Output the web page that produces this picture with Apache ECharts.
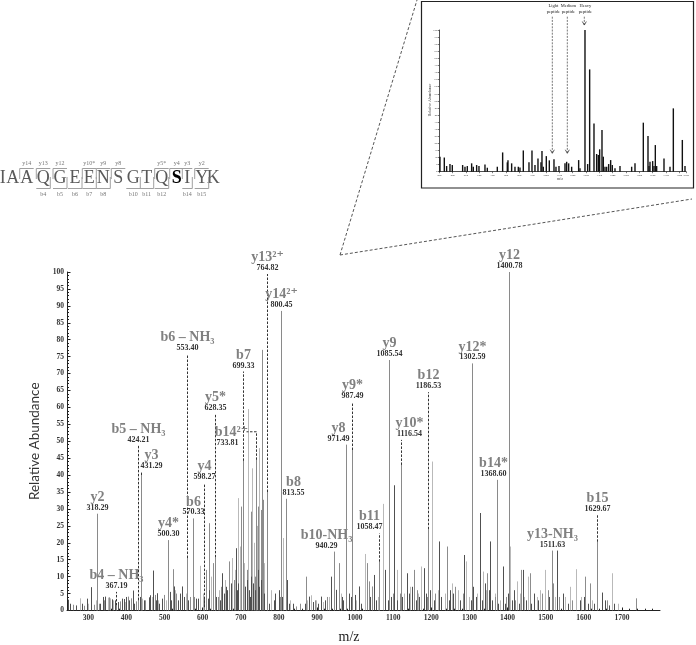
<!DOCTYPE html>
<html><head><meta charset="utf-8">
<script src="https://cdn.jsdelivr.net/npm/echarts@6/dist/echarts.min.js"></script>
<style>html,body{margin:0;padding:0;background:#fff}#c{width:696px;height:645px}</style>
</head><body><div id="c"></div>
<script>
// ================= DATA =================
const xTickLabels = [300,400,500,600,700,800,900,1000,1100,1200,1300,1400,1500,1600,1700];
const yTickLabels = [0,5,10,15,20,25,30,35,40,45,50,55,60,65,70,75,80,85,90,95,100];

// unannotated peaks [m/z, relative abundance], by grey shade
const lightPeaks = [[278,3.6],[300,2],[320,3],[351,3.8],[358,3.6],[366,3],[396,2.5],[430,4],[441,3.5],[467,4],[484,3],[505,3],[527,6],[540,4],[556,5],[593,13.2],[600,5],[623,10],[632,8],[642,6],[658,9],[677,15.5],[684,12],[693,33.2],[698,18.9],[708,14],[720,59.5],[730,42],[735,20],[742,25],[747.5,48],[762,14],[780,6],[811,21.4],[830,3],[875,3],[885,4.5],[898,3],[915,2.5],[932,4],[962,5],[1003,3],[1026,16.7],[1045,5],[1060,4],[1073,31.5],[1090,6],[1111,12],[1127,5],[1145,7],[1165,5],[1174,13],[1192,8],[1201,44],[1218,6],[1236,5],[1254,8],[1270,6],[1291,14.5],[1300,4],[1320,5],[1336,11.5],[1343,6],[1366,5],[1380,3],[1407,18.9],[1424,8.6],[1432,5],[1444,4],[1454,10],[1476,4],[1486,6],[1498,12],[1525,4],[1552,4],[1563,7],[1579,12.2],[1593,4],[1621,3],[1673,11],[1690,2]];
const midPeaks = [[260,1.7],[289,1.4],[314,1.7],[327,2],[341,3],[354,3.9],[383,2.7],[403,4.1],[411,3.6],[425,2.7],[449,3],[475,4.6],[498,4.6],[521,12.2],[530,5],[566,4],[578,4],[610,12],[617,25.8],[628,14],[640,4],[647,7],[670,14.5],[681,9],[700,30.7],[715,12],[728,29.2],[737,10],[746,30.7],[752,29.7],[756,77],[759,32.7],[768,11],[803,4],[845,1.2],[855,2],[871,10],[895,3],[925,4],[957,14],[1030,14],[1037,8.6],[1044,7.1],[1099,5],[1117,5],[1155,12],[1163,6],[1189,4],[1210,5],[1242,18.9],[1262,7],[1282,5],[1347,11],[1367,4],[1396,4],[1420,3],[1436,12],[1459,11],[1490,5],[1505,6],[1520,8],[1536,4],[1570,3],[1603,10],[1616,8],[1660,3],[1736,3.6]];
const darkPeaks = [[247,3.2],[252,2],[268,1.5],[284,2],[296,3.5],[306,6.9],[331,2],[338,4],[345,4.1],[363,3.3],[369,3],[378,2.5],[388,3.5],[393,3.4],[399,4],[407,3],[418,5.9],[421,2],[436,4],[446,3],[458,3.9],[463,4.5],[470,11.8],[478,3],[481,5.1],[486,2],[493,3.5],[513,5.5],[518,3],[524,7.1],[536,3],[541,5],[547,7.1],[551,4],[562,3],[582,3.5],[587,3.5],[603,4],[614,3.5],[617,6],[635,4],[645,3],[650,11],[655,5],[661,7],[665,6],[675,8],[687,18.4],[690,6],[693,8],[706,5],[710,7],[712,7],[716,9],[722,6],[724,4],[728,10],[733,8],[738,6],[745,12],[749,7],[752,9],[754,5],[762,5],[775,2],[786,3],[790,5],[800,6],[808,4],[820,9],[826,2],[838,2],[868,2],[880,4.1],[890,2.5],[903,2],[911,4.1],[921,3],[938,10],[945,4],[951,6.1],[965,4],[969,3],[983,5],[989,4],[1000,4.6],[1011,7.1],[1016,2],[1040,4],[1050,10.5],[1056,3],[1079,12],[1085,3],[1094,4],[1103,37],[1110,3],[1124,4],[1135,11],[1141,5],[1150,7],[1160,3],[1168,4],[1180,12.5],[1185,5],[1196,6],[1206,3],[1221,20.4],[1226,4],[1246,3],[1250,6],[1258,5],[1274,3],[1287,16.4],[1304,3],[1310,7],[1316,4],[1329,28.8],[1333,3],[1340,8],[1350,6],[1355,20.4],[1360,3],[1374,2],[1387,13],[1393,2],[1400,5],[1412,3],[1416,6],[1430,2],[1440,12],[1448,3],[1462,2],[1470,5],[1480,3],[1510,4],[1530,17.7],[1545,5],[1558,2],[1590,3],[1600,4],[1612,2],[1628,2],[1649,5.3],[1655,3],[1665,1.5],[1678,2]];

// annotated fragment ions
const annNames   = ['y2','b4 – NH₃','b5 – NH₃','y3','y4*','b6 – NH₃','b6','y4','y5*','b7','b14²⁺','y13²⁺','y14²⁺','b8','b10-NH₃','y8','y9*','b11','y9','y10*','b12','y12*','b14*','y12','y13-NH₃','b15'];
const annMasses  = ['318.29','367.19','424.21','431.29','500.30','553.40','570.33','598.27','628.35','699.33','733.81','764.82','800.45','813.55','940.29','971.49','987.49','1058.47','1085.54','1116.54','1186.53','1302.59','1368.60','1400.78','1511.63','1629.67'];
const annMz      = [323,372,431,438,508,558,575,604,632,705,739,770,805,817.5,944,975,991,1063,1089.5,1120,1190,1306,1371,1404.5,1516,1634];
const annPeak    = [28.6,1.5,3,40,20.8,15.5,27.2,1,15.7,44.2,44.5,35,88.5,33,17.4,49,47.4,14.4,74,43,24,73,38.6,100,17.7,20.3];
const annLabelTop= [28.6,5.5,48.7,41,20.8,75.7,27.2,37.6,58.2,70.6,52.8,99.4,88.5,33,17.4,49,61.5,22.8,74,50.4,64.5,73,38.6,100,17.7,28.2];

// peptide sequence and observed fragments
const seqLetters = ['I','A','A','Q','G','E','E','N','S','G','T','Q','S','I','Y','K'];
const seqPhosphoIndex = 12;
const seqYIons = ['y14','y13','y12','y10*','y9','y8','y5*','y4','y3','y2'];
const seqBIons = ['b4','b5','b6','b7','b8','b10','b11','b12','b14','b15'];

// inset (MS1) spectrum
const insetXTicks = [400,480,560,640,720,800,880,960,1040,1120,1200,1280,1360,1440,1520,1600,1680,1760,1840];
const insetMz  = [404,430,444,464,478,540,554,568,594,604,624,638,674,688,748,780,808,812,834,854,874,884,904,938,956,974,992,1010,1016,1024,1042,1060,1088,1100,1118,1154,1164,1176,1194,1236,1244,1274,1290,1302,1328,1344,1354,1362,1376,1384,1394,1404,1416,1428,1438,1454,1484,1554,1574,1624,1652,1658,1664,1680,1688,1696,1704,1748,1784,1804,1858,1874];
const insetInt = [10.6,10,4,5.4,4.7,4.7,3.5,4,5.9,3.5,4.7,4,5,2.8,3.5,13.6,6.6,8,5.9,3.5,3.5,3,15,6.6,15,4.7,9.4,6.6,14.6,3.5,11,8,8.7,3.5,4,5.9,7,5.9,3.5,8.2,2.4,100,5.4,72.2,34,12.5,11.8,15.8,29.4,10.6,3.5,3.5,5.4,8.2,4.7,2.4,4,3.5,5.9,34.6,25.2,4,7,7.5,4,18.8,4,9.4,3.5,44.7,22.4,4];
const insetPeptides = ['Light','Medium','Heavy'];
const insetPeptideMz = [1078,1168,1270];
const insetArrowEnd = [13,13,103.5];

// ================= LAYOUT / STYLE =================
const SERIF = '"Liberation Serif", "DejaVu Serif", serif';
const annDx = {'y3':10,'b8':7,'b10-NH₃':-8,'y8':-8,'b11':-10,'y10*':8,'b14*':-4};
const seqCx = [2.7,12.7,26.7,43.3,60,75,89.3,103.3,118.3,133.3,146.7,161.7,176.7,187.3,201.7,213.3];
const seqY = 178;

const chart = echarts.init(document.getElementById('c'), null, {renderer:'canvas'});

function stick(color, w){
  return function(params, api){
    const x = api.value(0), h = api.value(1);
    const p0 = api.coord([x,0]), p1 = api.coord([x,h]);
    const px = Math.round(p0[0]) + 0.5;
    return {type:'line', shape:{x1:px,y1:p0[1],x2:px,y2:p1[1]}, style:{stroke:color,lineWidth:w}, silent:true};
  };
}

function txt(x, y, text, font, fill){
  return {type:'text', x:x, y:y, silent:true, style:{text:text, font:font, fill:fill, align:'center', verticalAlign:'middle', textAlign:'center', textVerticalAlign:'middle'}};
}

function annRender(params, api){
  const i = api.value(3);
  const m = api.value(0);
  const base = api.coord([m,0]), pk = api.coord([m, api.value(1)]), top = api.coord([m, api.value(2)]);
  const px = Math.round(base[0]) + 0.5;
  const name = annNames[i];
  const kids = [{type:'line', shape:{x1:px,y1:base[1],x2:px,y2:pk[1]}, style:{stroke:'#8a8a8a',lineWidth:1}}];
  if (top[1] < pk[1]-1) {
    kids.push({type:'line', shape:{x1:px,y1:pk[1],x2:px,y2:top[1]}, style:{stroke:'#333',lineWidth:1,lineDash:[2.5,1.5]}});
  }
  if (name === 'b14²⁺') {
    kids.push({type:'line', shape:{x1:px,y1:top[1],x2:px-10,y2:top[1]}, style:{stroke:'#333',lineWidth:1,lineDash:[2.5,1.5]}});
    kids.push(txt(px-25, top[1]+1, name, 'bold 14px '+SERIF, '#808080'));
    kids.push(txt(px-29, top[1]+11, annMasses[i], 'bold 8px '+SERIF, '#333'));
  } else {
    const dx = annDx[name] || 0;
    kids.push(txt(px+dx, top[1]-16.5, name, 'bold 14px '+SERIF, '#808080'));
    kids.push(txt(px+dx, top[1]-6, annMasses[i], 'bold 8px '+SERIF, '#333'));
  }
  return {type:'group', children:kids, silent:true};
}

function insetBar(params, api){
  const p0 = api.coord([api.value(0),0]), p1 = api.coord([api.value(0),api.value(1)]);
  return {type:'rect', shape:{x:p0[0]-0.7,y:p1[1],width:1.4,height:p0[1]-p1[1]}, style:{fill:'#111'}, silent:true};
}

function insetMarker(params, api){
  const i = api.value(2);
  const e = api.coord([api.value(0), api.value(1)]);
  const x = e[0];
  return {type:'group', silent:true, children:[
    {type:'line', shape:{x1:x,y1:16.7,x2:x,y2:e[1]}, style:{stroke:'#555',lineWidth:0.8,lineDash:[2,1.2]}},
    {type:'polyline', shape:{points:[[x-2,e[1]-3.5],[x,e[1]],[x+2,e[1]-3.5]]}, style:{stroke:'#333',lineWidth:0.8,fill:null}},
    txt(x+1, 6, insetPeptides[i], '4.5px '+SERIF, '#222'),
    txt(x+1, 11.5, 'peptide', '4.5px '+SERIF, '#222')
  ]};
}

// graphic: peptide sequence, connectors, inset frame, titles
const g = [];
seqLetters.forEach((L,k)=>{
  g.push(txt(seqCx[k], seqY, L, (k===seqPhosphoIndex?'bold ':'')+'18px '+SERIF, (k===seqPhosphoIndex?'#000':'#5a5a5a')));
});
function halfW(k){ return seqLetters[k]==='I' ? 5 : 7; }
seqYIons.forEach(lbl=>{
  const n = parseInt(lbl.slice(1));
  const k = seqLetters.length - n;
  const l = seqCx[k]-halfW(k), r = seqCx[k]+halfW(k);
  g.push({type:'polyline', silent:true, shape:{points:[[l,seqY+1],[l,168.5],[r,168.5]]}, style:{stroke:'#a0a0a0',lineWidth:1,fill:null}});
  g.push(txt(seqCx[k], 163.5, lbl, '6px '+SERIF, '#777'));
});
seqBIons.forEach(lbl=>{
  const n = parseInt(lbl.slice(1));
  const k = n-1;
  const l = seqCx[k]-halfW(k), r = seqCx[k]+halfW(k);
  g.push({type:'polyline', silent:true, shape:{points:[[l,188.5],[r,188.5],[r,seqY-1]]}, style:{stroke:'#a0a0a0',lineWidth:1,fill:null}});
  g.push(txt(seqCx[k], 194, lbl, '6px '+SERIF, '#777'));
});
g.push({type:'line', silent:true, shape:{x1:340,y1:255,x2:417,y2:0}, style:{stroke:'#555',lineWidth:1,lineDash:[3,2]}});
g.push({type:'line', silent:true, shape:{x1:340,y1:255,x2:692,y2:199}, style:{stroke:'#555',lineWidth:1,lineDash:[3,2]}});
g.push({type:'rect', silent:true, z:-1, shape:{x:421.5,y:1.5,width:272,height:186.5}, style:{stroke:'#222',lineWidth:1.2,fill:'#fff'}});
g.push(Object.assign(txt(429.5, 100, 'Relative Abundance', '4px '+SERIF, '#333'), {rotation:Math.PI/2}));
g.push(txt(560, 178.5, 'm/z', '4px '+SERIF, '#333'));
g.push(txt(349, 637, 'm/z', '14px '+SERIF, '#222'));

const minorX = [];
for (let v=260; v<=1780; v+=20) if (v%100!==0) minorX.push(v);

const option = {
  animation:false,
  backgroundColor:'#fff',
  grid:[
    {left:67, right:36, top:272, bottom:34.5, containLabel:false},
    {left:439.3, right:10, top:30, bottom:473.3, containLabel:false}
  ],
  xAxis:[
    {type:'value', gridIndex:0, position:'bottom', min:244, max:1800, splitLine:{show:false},
     axisLine:{lineStyle:{color:'#222',width:1}},
     axisTick:{customValues:xTickLabels, inside:true, length:3, lineStyle:{color:'#222'}},
     axisLabel:{customValues:xTickLabels, formatter:v=>String(v), fontFamily:SERIF, fontWeight:'bold', fontSize:7.5, color:'#333', margin:4}},
    {type:'value', gridIndex:0, position:'bottom', offset:0, min:244, max:1800, splitLine:{show:false},
     axisLine:{show:false},
     axisTick:{customValues:minorX, inside:true, length:1.8, lineStyle:{color:'#222'}},
     axisLabel:{show:false}},
    {type:'value', gridIndex:1, position:'bottom', min:400, max:1880, interval:80, splitLine:{show:false},
     axisLine:{lineStyle:{color:'#222',width:0.8}},
     axisTick:{length:1.5, lineStyle:{color:'#222',width:0.6}},
     axisLabel:{formatter:v=>String(v), fontSize:2.8, fontFamily:SERIF, color:'#444', margin:2}}
  ],
  yAxis:[
    {type:'value', gridIndex:0, min:0, max:100, interval:5, splitLine:{show:false},
     axisLine:{show:true, lineStyle:{color:'#222',width:1}},
     axisTick:{show:true, inside:true, length:3.5, lineStyle:{color:'#222'}},
     minorTick:{show:true, splitNumber:5, length:2, lineStyle:{color:'#222'}},
     axisLabel:{fontFamily:SERIF, fontWeight:'bold', fontSize:7.5, color:'#333', margin:3},
     name:'Relative Abundance', nameLocation:'middle', nameGap:23,
     nameTextStyle:{fontFamily:'Lato, "Open Sans", sans-serif', fontSize:13.5, color:'#333'}},
    {type:'value', gridIndex:1, min:0, max:100, interval:5, splitLine:{show:false},
     axisLine:{show:true, lineStyle:{color:'#222',width:0.8}},
     axisTick:{show:true, length:1.5, lineStyle:{color:'#222',width:0.6}},
     axisLabel:{fontSize:2.8, fontFamily:SERIF, color:'#444', margin:2}}
  ],
  graphic: g,
  series:[
    {type:'custom', xAxisIndex:0, yAxisIndex:0, renderItem:stick('#b9b9b9',1), data:lightPeaks, clip:true, silent:true},
    {type:'custom', xAxisIndex:0, yAxisIndex:0, renderItem:stick('#8c8c8c',1), data:midPeaks, clip:true, silent:true},
    {type:'custom', xAxisIndex:0, yAxisIndex:0, renderItem:stick('#505050',1), data:darkPeaks, clip:true, silent:true},
    {type:'custom', xAxisIndex:0, yAxisIndex:0, renderItem:annRender, data:annMz.map((m,i)=>[m,annPeak[i],annLabelTop[i],i]), clip:false, silent:true, z:5},
    {type:'custom', xAxisIndex:2, yAxisIndex:1, renderItem:insetBar, data:insetMz.map((m,i)=>[m,insetInt[i]]), silent:true, z:3},
    {type:'custom', xAxisIndex:2, yAxisIndex:1, renderItem:insetMarker, data:insetPeptideMz.map((m,i)=>[m,insetArrowEnd[i],i]), clip:false, silent:true, z:4}
  ]
};
chart.setOption(option);
</script>
</body></html>
